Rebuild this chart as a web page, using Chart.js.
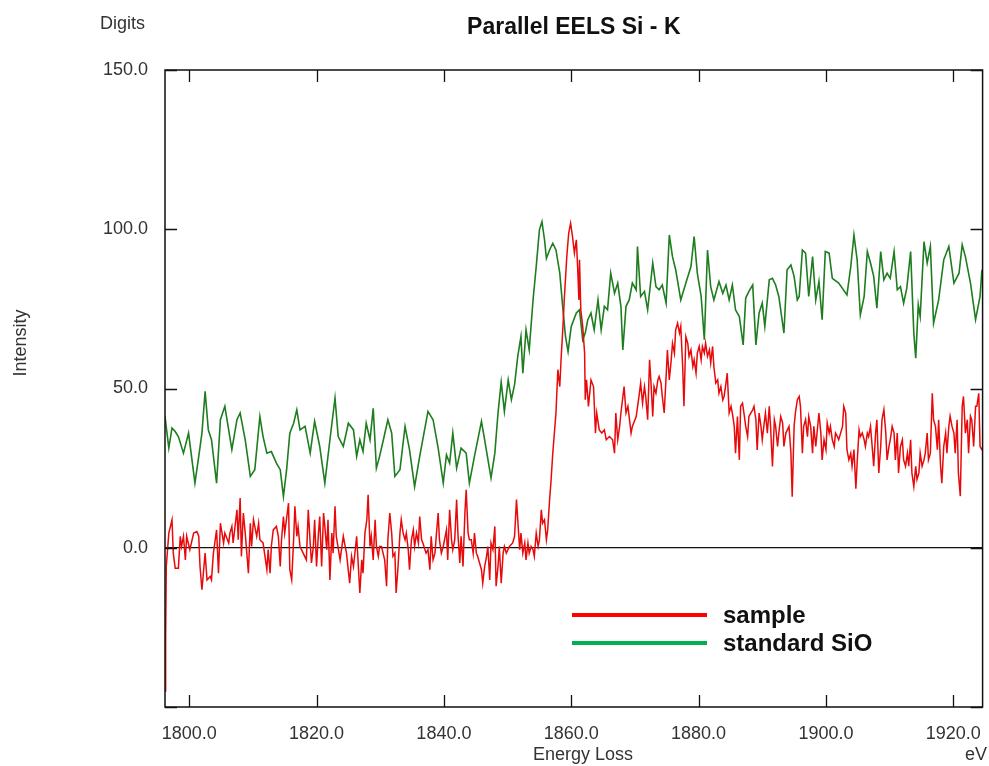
<!DOCTYPE html>
<html>
<head>
<meta charset="utf-8">
<script src="https://cdn.jsdelivr.net/npm/chart.js@4.4.0/dist/chart.umd.min.js"></script>
<style>
  html, body { margin: 0; padding: 0; background: #fff; }
  #wrap { width: 989px; height: 766px; }
</style>
</head>
<body>
<div id="wrap"><canvas id="chart1" width="989" height="766"></canvas></div>
<script>
// sample spectrum (red), energy in eV and intensity in digits
const sampleEnergy = [
  1796.2, 1796.3, 1796.4,
  1796.8, 1797.3, 1797.5, 1797.8, 1798.3, 1798.6, 1798.8, 1799.1, 1799.4, 1799.6,
  1800.1, 1800.7, 1801.2, 1801.5, 1801.7, 1802.0, 1802.5, 1802.8, 1803.3, 1803.5,
  1803.8, 1804.3, 1804.6, 1804.9, 1805.4, 1805.6, 1806.2, 1806.4, 1806.7, 1806.9,
  1807.5, 1807.7, 1808.0, 1808.2, 1808.5, 1808.8, 1809.3, 1809.6, 1809.8, 1810.1,
  1810.6, 1810.9, 1811.1, 1811.6, 1812.2, 1812.4, 1812.7, 1812.9, 1813.2, 1813.7,
  1814.0, 1814.3, 1814.5, 1814.8, 1815.0, 1815.6, 1815.8, 1816.1, 1816.4, 1816.6,
  1816.9, 1817.1, 1817.4, 1817.9, 1818.4, 1818.7, 1819.0, 1819.2, 1819.5, 1819.7,
  1820.0, 1820.3, 1820.5, 1820.8, 1821.1, 1821.3, 1821.6, 1821.8, 1822.1, 1822.4,
  1822.6, 1822.9, 1823.1, 1823.7, 1824.2, 1824.7, 1825.2, 1825.5, 1825.8, 1826.3,
  1826.8, 1827.1, 1827.3, 1827.6, 1827.9, 1828.1, 1828.4, 1828.6, 1828.9, 1829.2,
  1829.4, 1829.7, 1829.9,
  1830.2, 1830.7, 1831.0, 1831.2, 1831.5, 1831.8, 1832.0, 1832.3, 1832.5, 1832.8,
  1833.1, 1833.3, 1833.6, 1833.9, 1834.1, 1834.4, 1834.6, 1834.9, 1835.2, 1835.4,
  1835.7, 1836.0, 1836.2, 1836.5, 1836.7, 1837.2, 1837.5, 1837.8, 1838.0, 1838.3,
  1838.6, 1838.8, 1839.1, 1839.3, 1839.6, 1839.9, 1840.1, 1840.4, 1840.6, 1840.9,
  1841.2, 1841.4, 1841.7, 1842.0, 1842.2, 1842.5, 1842.7, 1843.0, 1843.3, 1843.5,
  1843.8, 1844.0, 1844.3, 1844.6, 1844.8, 1845.1, 1845.3, 1845.6, 1845.9, 1846.1,
  1846.4, 1846.7, 1846.9, 1847.2, 1847.4, 1847.7, 1848.0, 1848.2, 1848.5, 1848.7,
  1849.0, 1849.3, 1849.5, 1849.8, 1850.3, 1850.8, 1851.1, 1851.4, 1851.6, 1851.9,
  1852.1, 1852.4, 1852.7, 1852.9, 1853.2, 1853.4, 1853.7, 1854.0, 1854.2, 1854.5,
  1854.8, 1855.0, 1855.3, 1855.5, 1855.8, 1856.1, 1856.3,
  1856.6, 1856.8, 1857.1, 1857.6, 1857.9, 1858.2, 1858.4, 1858.7, 1858.9, 1859.3,
  1859.6, 1859.9, 1860.2, 1860.5, 1860.8, 1861.0, 1861.2, 1861.3, 1861.5, 1861.8,
  1862.1, 1862.2, 1862.4, 1862.7, 1863.1, 1863.5, 1863.8, 1864.0, 1864.4, 1864.8,
  1865.2, 1865.5, 1866.0, 1866.5, 1866.8, 1867.0, 1867.3, 1867.6, 1867.8, 1868.3,
  1868.6, 1868.9, 1869.4, 1869.6, 1870.2,
  1870.7, 1870.9, 1871.2, 1871.5, 1871.7, 1872.0, 1872.3, 1872.5, 1872.8, 1873.0,
  1873.3, 1873.6, 1873.8, 1874.1, 1874.3, 1874.6, 1874.9, 1875.1, 1875.4, 1875.7,
  1875.9, 1876.2, 1876.4, 1876.7, 1877.0, 1877.2, 1877.5, 1877.7, 1878.0, 1878.3,
  1878.5, 1878.8, 1879.1, 1879.3, 1879.6, 1879.8, 1880.1, 1880.4, 1880.6, 1880.9,
  1881.1, 1881.4, 1881.7, 1881.9, 1882.2, 1882.4, 1882.7, 1883.0, 1883.2, 1883.5,
  1883.8, 1884.0, 1884.3, 1884.5, 1884.8, 1885.1, 1885.3, 1885.6, 1885.8, 1886.1,
  1886.4, 1886.6, 1886.9, 1887.2, 1887.4, 1887.7, 1887.9, 1888.2, 1888.5, 1888.7,
  1889.0, 1889.2, 1889.5, 1889.8, 1890.0, 1890.3, 1890.5, 1890.8, 1891.1, 1891.3,
  1891.6, 1891.9, 1892.1, 1892.4, 1892.6, 1892.9, 1893.2, 1893.4, 1893.7, 1894.2,
  1894.5, 1894.7, 1895.0, 1895.2, 1895.5, 1895.8, 1896.0, 1896.3, 1896.5, 1896.8,
  1897.1, 1897.3, 1897.6, 1897.9, 1898.1, 1898.4,
  1898.9, 1899.2, 1899.4, 1899.7, 1900.0, 1900.2, 1900.5, 1900.7, 1901.0, 1901.3,
  1901.5, 1901.8, 1902.0, 1902.3, 1902.6, 1902.8, 1903.1, 1903.3, 1903.6, 1903.9,
  1904.1, 1904.4, 1904.7, 1904.9, 1905.2, 1905.4, 1905.7, 1906.0, 1906.2, 1906.5,
  1906.7, 1907.0, 1907.3, 1907.5, 1907.8, 1908.0, 1908.3, 1908.6, 1908.8, 1909.1,
  1909.4, 1909.6, 1909.9, 1910.1, 1910.4, 1910.7, 1910.9, 1911.2, 1911.4, 1911.7,
  1912.0, 1912.2, 1912.5, 1912.8, 1913.0, 1913.3, 1913.5, 1913.8, 1914.1, 1914.3,
  1914.6, 1914.8, 1915.1, 1915.4, 1915.6, 1915.9, 1916.1, 1916.4, 1916.7, 1916.9,
  1917.2, 1917.5, 1917.7, 1918.0, 1918.2, 1918.5, 1918.8, 1919.0, 1919.3, 1919.5,
  1919.8, 1920.1, 1920.3, 1920.6, 1920.8, 1921.1, 1921.4, 1921.6, 1921.9, 1922.2,
  1922.4, 1922.7, 1922.9, 1923.2, 1923.5, 1923.7, 1924.0, 1924.2, 1924.5, 1924.8
];
const sampleCounts = [
  -45, -28, -5.9,
  4.6, 8.8, -1.7, -6.4, -6.4, 3.6, 0.4, 3.6, -3.8, 3.6,
  -0.6, 4.6, 5.1, 3.6, -5.9, -13.2, -1.7, -10.1, -9.0, -10.1,
  -1.7, 5.6, -8.0, 7.7, 1.5, 4.6, 1.5, 4.6, 6.7, 1.5,
  11.9, 2.5, 15.6, -2.7, 10.9, 4.6, -8.0, 7.7, 0.4, 8.8,
  3.6, 7.7, 2.5, 1.5, -6.9, -0.6, -8.0, 0.4, 5.6, 6.7,
  3.6, -5.9, 2.5, 9.8, 4.6, 14.0, -6.9, -10.1, 2.5, 13.0,
  3.6, 6.7, 0.4, -1.7, -3.8, 11.9, 1.5, -4.8, 0.4, 8.8,
  -5.9, 4.6, 9.8, -5.9, 10.9, 6.7, -0.6, 8.8, -10.1, 4.6,
  -1.7, 13.0, 3.6, -3.8, 3.6, -1.7, -11.1, -2.7, -5.9, 3.6,
  -14.2, -3.8, -8.0, 4.6, 8.8, 16.6, 0.4, 3.6, -3.8, 8.8,
  0.4, -2.7, 0.4,
  0.4, -3.8, -12.1, 2.5, 10.9, 4.6, -2.7, -1.7, -14.2, -5.9,
  4.6, 8.8, 4.6, 2.5, 4.6, -0.6, -6.9, 2.5, 5.6, 0.4,
  4.6, 1.5, 9.8, 2.5, 1.5, -1.7, -0.6, -6.9, 3.6, -3.8,
  -1.7, 3.6, 10.9, 2.5, -1.7, 0.4, 2.5, 5.6, -3.8, 11.9,
  2.5, -0.6, 2.5, 15.1, 4.6, -4.8, 3.6, -5.9, 10.9, 18.2,
  4.6, 2.5, 2.5, -1.7, 4.6, -1.7, -2.7, -4.8, -6.9, -11.1,
  -5.9, -2.7, 0.4, -10.1, 1.5, -0.6, 6.7, -12.1, -5.9, 0.4,
  -11.1, -1.7, 0.4, -1.7, 0.4, 1.5, 3.6, 15.1, 8.8, -0.6,
  4.6, -1.7, 1.5, -3.8, 1.5, -1.7, 0.4, -0.6, -2.7, 4.6,
  0.4, 2.5, 11.9, 7.7, 8.8, 2.5, 5.6,
  15.1, 20.3, 29.7, 42.3, 55.9, 50.6, 59.0, 69.5, 77.8, 91.4,
  98.8, 101.9, 97.7, 92.5, 96.7, 88.3, 77.8, 90.4, 74.7, 69.5,
  61.1, 46.5, 52.7, 44.4, 52.7, 50.6, 36.0, 42.3, 37.0, 36.0,
  37.0, 33.9, 34.9, 33.9, 29.7, 42.3, 33.9, 38.1, 42.3, 50.6,
  42.3, 44.4, 36.0, 38.1, 41.2,
  48.5, 51.7, 45.4, 50.6, 47.5, 40.2, 59.0, 52.7, 41.2, 50.6,
  48.5, 52.7, 53.8, 51.7, 47.5, 42.3, 53.8, 62.1, 52.7, 59.0,
  64.2, 61.1, 68.4, 70.5, 67.4, 69.5, 56.9, 44.4, 66.3, 64.2,
  60.1, 62.1, 56.9, 59.0, 54.8, 61.1, 63.2, 59.0, 63.2, 61.1,
  64.2, 60.1, 62.1, 58.0, 63.2, 56.9, 51.7, 52.7, 48.5, 50.6,
  46.4, 47.5, 51.7, 54.8, 42.3, 44.4, 42.3, 38.1, 29.7, 41.2,
  27.6, 44.4, 45.4, 41.2, 38.1, 34.9, 41.2, 42.3, 43.3, 44.4,
  40.2, 30.7, 42.3, 38.1, 33.9, 39.1, 42.3, 36.0, 44.4, 38.1,
  25.5, 40.2, 38.1, 31.8, 36.0, 41.2, 39.1, 31.8, 36.0, 38.1,
  29.7, 16.0, 38.1, 42.3, 46.4, 47.5, 44.4, 29.7, 38.1, 40.2,
  34.9, 41.2, 38.1, 29.7, 38.1, 31.8,
  42.3, 36.0, 27.6, 33.9, 30.8, 39.2, 36.0, 38.1, 33.9, 31.8,
  36.0, 34.9, 33.9, 36.0, 38.1, 44.4, 42.3, 30.8, 27.6, 29.7,
  25.6, 30.8, 18.5, 26.6, 37.0, 34.9, 36.0, 33.9, 31.8, 36.0,
  34.9, 38.1, 30.8, 25.6, 36.0, 40.2, 23.5, 31.8, 40.2, 43.4,
  36.0, 27.6, 31.8, 33.9, 38.1, 36.0, 27.6, 36.0, 23.5, 31.8,
  33.9, 27.6, 25.6, 29.7, 25.6, 33.9, 23.5, 19.2, 25.6, 21.4,
  23.5, 29.7, 25.6, 27.6, 29.7, 36.0, 27.6, 29.7, 48.5, 40.2,
  38.1, 30.8, 40.2, 25.6, 20.3, 31.8, 36.0, 29.7, 38.1, 41.3,
  38.1, 36.0, 29.7, 40.2, 23.5, 16.2, 44.4, 47.5, 36.0, 40.2,
  29.7, 41.3, 40.2, 31.8, 44.4, 44.4, 48.5, 31.8, 30.8, 30.8
];

// standard SiO spectrum (green)
const standardEnergy = [
  1796.2, 1796.8, 1797.3, 1797.8, 1798.3, 1799.1, 1799.9, 1800.7, 1800.9, 1801.5,
  1802.0, 1802.5, 1803.0, 1803.5, 1804.3, 1804.9, 1805.6, 1806.2, 1806.7, 1807.5,
  1808.0, 1808.8, 1809.6, 1810.3, 1811.1, 1811.6, 1812.2, 1812.9, 1813.7, 1814.3,
  1814.8, 1815.3, 1815.8, 1816.4, 1816.9, 1817.4, 1818.2, 1819.0, 1819.7, 1820.5,
  1821.3, 1822.1, 1822.9, 1823.4, 1824.2, 1825.0, 1825.8, 1826.3,
  1826.8, 1827.3, 1827.8, 1828.4, 1828.9, 1829.4, 1829.9, 1830.5, 1831.2, 1831.8,
  1832.3, 1833.1, 1833.9, 1834.6, 1835.4, 1836.2, 1837.5, 1838.3, 1839.1, 1839.9,
  1840.4, 1840.9, 1841.4, 1842.0, 1842.7, 1843.5, 1844.0, 1844.8, 1845.9,
  1846.4, 1847.4, 1848.0, 1848.5, 1849.0, 1849.5, 1850.1, 1850.6, 1851.1, 1851.6,
  1852.1, 1852.4, 1852.9, 1853.4, 1854.0, 1854.5, 1855.0, 1855.4, 1855.8, 1856.1,
  1856.6, 1857.1, 1857.6, 1858.2, 1858.7, 1859.1, 1859.5, 1860.0, 1860.8, 1861.3,
  1861.8, 1862.2, 1862.6, 1863.1, 1863.6, 1864.2, 1864.7, 1865.2, 1865.7, 1866.2,
  1866.8, 1867.3, 1867.8, 1868.1, 1868.6, 1869.1, 1869.6, 1870.2, 1870.4,
  1870.9, 1871.5, 1872.0, 1872.8, 1873.3, 1873.8, 1874.3, 1874.9, 1875.4, 1875.9,
  1876.4, 1877.2, 1878.0, 1878.8, 1879.3, 1879.8, 1880.4, 1880.9, 1881.4, 1881.9,
  1882.4, 1883.2, 1883.8, 1884.3, 1884.8, 1885.3, 1885.8, 1886.4, 1887.0, 1887.4,
  1887.9, 1888.5, 1889.0, 1889.5, 1890.0, 1890.4, 1891.1, 1891.6, 1892.1, 1892.6,
  1893.4, 1893.9, 1894.5, 1895.0, 1895.5,
  1895.8, 1896.3, 1896.8, 1897.3, 1897.9, 1898.4, 1898.9, 1899.4, 1899.9, 1900.5,
  1901.0, 1902.0, 1903.3, 1903.9, 1904.4, 1904.9, 1905.4, 1906.0, 1906.5, 1907.0,
  1907.5, 1908.0, 1908.6, 1909.1, 1909.6, 1910.1, 1910.7, 1911.2, 1911.7, 1912.2,
  1912.7, 1913.3, 1913.8, 1914.1, 1914.5, 1914.8, 1915.4, 1915.9, 1916.4, 1916.9,
  1917.7, 1918.5, 1919.3, 1920.1, 1920.9, 1921.4, 1921.9, 1922.7, 1923.5, 1924.2,
  1924.5
];
const standardCounts = [
  41.2, 31.3, 37.6, 36.5, 34.9, 29.7, 36.0, 23.4, 20.3, 28.7,
  36.0, 49.1, 37.0, 33.9, 20.3, 40.2, 44.4, 37.0, 30.8, 40.2,
  42.3, 33.9, 22.4, 24.5, 41.2, 34.9, 29.7, 30.2, 26.6, 24.5,
  16.1, 24.5, 36.0, 39.1, 43.3, 37.0, 38.1, 29.7, 39.7, 31.8,
  20.3, 33.9, 47.0, 34.9, 31.8, 39.1, 37.0, 28.7,
  33.9, 30.2, 39.1, 33.9, 43.8, 25.0, 28.7, 33.9, 40.2, 36.0,
  22.4, 24.5, 38.1, 30.8, 19.2, 28.7, 42.8, 40.2, 31.3, 20.3,
  29.2, 26.6, 36.0, 25.0, 31.3, 29.7, 20.3, 28.7, 39.7,
  33.9, 21.9, 29.7, 42.3, 52.0, 42.8, 52.7, 46.5, 51.2, 60.1,
  66.3, 54.8, 68.4, 62.1, 77.8, 88.3, 99.8, 102.4, 96.7, 90.9,
  93.5, 95.6, 93.5, 86.2, 74.7, 66.3, 61.6, 69.5, 73.7, 74.7,
  65.3, 67.4, 71.6, 73.7, 68.4, 77.8, 68.4, 75.8, 74.7, 86.2,
  79.9, 83.1, 75.8, 62.1, 75.8, 77.8, 83.1, 81.0, 94.6,
  78.9, 80.5, 74.7, 89.4, 82.0, 81.0, 82.5, 76.8, 98.2, 91.4,
  87.3, 77.8, 83.1, 88.3, 97.7, 86.2, 78.9, 65.3, 93.5, 82.0,
  77.8, 83.6, 79.9, 82.5, 77.8, 82.5, 74.7, 72.6, 63.7, 78.4,
  80.5, 82.5, 63.7, 73.7, 76.8, 69.5, 84.1, 84.6, 82.5, 78.9,
  67.4, 87.3, 88.8, 85.2, 77.8,
  78.9, 93.5, 92.5, 78.9, 91.4, 77.8, 83.6, 71.6, 93.0, 92.5,
  84.6, 83.1, 79.4, 88.3, 98.2, 90.4, 73.1, 78.9, 93.0, 89.4,
  85.2, 75.2, 93.0, 84.1, 86.2, 84.6, 93.0, 81.0, 82.0, 76.8,
  81.5, 93.0, 67.4, 59.5, 76.3, 72.6, 96.1, 89.4, 94.6, 70.5,
  77.8, 90.4, 94.6, 83.1, 86.2, 95.1, 91.4, 83.1, 71.6, 78.9,
  87.3
];

const xTicks = [1800, 1820, 1840, 1860, 1880, 1900, 1920];
const yTicks = [-50, 0, 50, 100, 150];

if (sampleEnergy.length !== sampleCounts.length || standardEnergy.length !== standardCounts.length) {
  console.warn('length mismatch', sampleEnergy.length, sampleCounts.length, standardEnergy.length, standardCounts.length);
}

function toPoints(xs, ys) {
  return xs.map((x, i) => ({ x: x, y: ys[i] }));
}

const FONT = "'Liberation Sans', Arial, sans-serif";

// frame, inward ticks, titles and legend
const decorPlugin = {
  id: 'decor',
  afterDraw(chart) {
    const ctx = chart.ctx;
    const a = chart.chartArea;
    const xs = chart.scales.x, ys = chart.scales.y;
    ctx.save();
    ctx.strokeStyle = '#111';
    ctx.lineWidth = 1.5;
    ctx.strokeRect(a.left, a.top, a.right - a.left, a.bottom - a.top);
    ctx.lineWidth = 1.3;
    ctx.beginPath();
    xTicks.forEach(v => {
      const px = Math.round(xs.getPixelForValue(v)) + 0.5;
      ctx.moveTo(px, a.bottom); ctx.lineTo(px, a.bottom - 12);
      ctx.moveTo(px, a.top); ctx.lineTo(px, a.top + 12);
    });
    yTicks.forEach(v => {
      const py = Math.round(ys.getPixelForValue(v)) + 0.5;
      ctx.moveTo(a.left, py); ctx.lineTo(a.left + 12, py);
      ctx.moveTo(a.right, py); ctx.lineTo(a.right - 12, py);
    });
    ctx.stroke();

    ctx.fillStyle = '#111';
    ctx.textBaseline = 'middle';
    ctx.font = 'bold 23px ' + FONT;
    ctx.textAlign = 'center';
    ctx.fillText('Parallel EELS Si - K', (a.left + a.right) / 2, 28);

    ctx.fillStyle = '#333';
    ctx.font = '18px ' + FONT;
    ctx.textAlign = 'left';
    ctx.fillText('Digits', 100, 24);
    ctx.textAlign = 'center';
    ctx.fillText('Energy Loss', 583, 755);
    ctx.textAlign = 'right';
    ctx.fillText('eV', 987, 755);
    ctx.save();
    ctx.translate(21, 343);
    ctx.rotate(-Math.PI / 2);
    ctx.textAlign = 'center';
    ctx.fillText('Intensity', 0, 0);
    ctx.restore();

    // legend
    const legendColors = ['rgb(255,0,0)', 'rgb(0,176,80)'];
    chart.data.datasets.forEach((ds, i) => {
      const ly = 615 + i * 28;
      ctx.strokeStyle = legendColors[i];
      ctx.lineWidth = 4;
      ctx.beginPath();
      ctx.moveTo(572, ly); ctx.lineTo(707, ly);
      ctx.stroke();
      ctx.fillStyle = '#111';
      ctx.font = 'bold 24px ' + FONT;
      ctx.textAlign = 'left';
      ctx.fillText(ds.label, 723, ly + 1);
    });
    ctx.restore();
  }
};

new Chart(document.getElementById('chart1'), {
  type: 'line',
  data: {
    datasets: [
      {
        label: 'sample',
        data: toPoints(sampleEnergy, sampleCounts),
        borderColor: 'rgb(232,10,10)',
        borderWidth: 1.5,
        pointRadius: 0,
        tension: 0
      },
      {
        label: 'standard SiO',
        data: toPoints(standardEnergy, standardCounts),
        borderColor: 'rgb(30,125,30)',
        borderWidth: 1.6,
        pointRadius: 0,
        tension: 0
      }
    ]
  },
  options: {
    responsive: false,
    animation: false,
    layout: { padding: { top: 70, right: 5, left: 0, bottom: 0 } },
    plugins: { legend: { display: false }, tooltip: { enabled: false } },
    scales: {
      x: {
        type: 'linear',
        min: 1796.2,
        max: 1924.6,
        afterFit: s => { s.height = 59; },
        afterBuildTicks: s => { s.ticks = xTicks.map(v => ({ value: v })); },
        grid: { display: false },
        border: { display: false },
        ticks: {
          autoSkip: false,
          maxRotation: 0,
          padding: 8,
          color: '#333',
          font: { family: FONT, size: 18 },
          callback: v => v.toFixed(1)
        }
      },
      y: {
        min: -50,
        max: 150,
        afterFit: s => { s.width = 165; },
        afterBuildTicks: s => { s.ticks = yTicks.map(v => ({ value: v })); },
        grid: {
          drawTicks: false,
          lineWidth: 1.3,
          color: c => (c.tick && c.tick.value === 0) ? '#111' : 'rgba(0,0,0,0)'
        },
        border: { display: false },
        ticks: {
          padding: 17,
          color: '#333',
          font: { family: FONT, size: 18 },
          callback: v => v === -50 ? '' : v.toFixed(1)
        }
      }
    }
  },
  plugins: [decorPlugin]
});
</script>
</body>
</html>
